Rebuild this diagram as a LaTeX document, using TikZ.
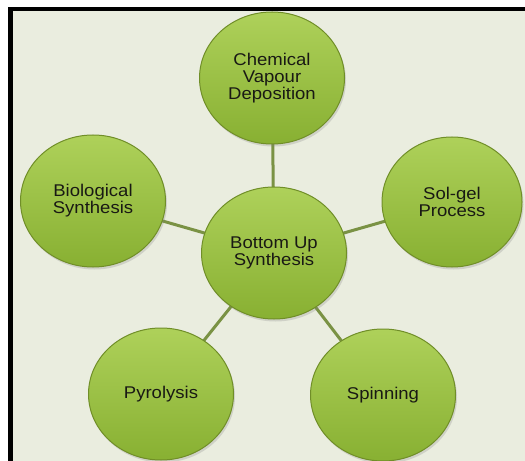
\documentclass[tikz,border=0pt]{standalone}
\usepackage{fontspec}
\setmainfont{Liberation Sans}[FakeStretch=1.09]
\usetikzlibrary{shapes.geometric,shadows}
\definecolor{bgc}{RGB}{234,237,223}
\definecolor{gtop}{RGB}{174,209,90}
\definecolor{gbot}{RGB}{136,176,50}
\definecolor{gedge}{RGB}{112,142,40}
\definecolor{conn}{RGB}{122,146,68}
\definecolor{txt}{RGB}{25,25,20}
\pgfdeclarelayer{bglayer}
\pgfdeclarelayer{linelayer}
\pgfsetlayers{bglayer,linelayer,main}
\begin{document}
\begin{tikzpicture}[x=1bp,y=-1bp,
  bubble/.style={ellipse, minimum width=145bp, minimum height=132bp, inner sep=0pt,
    align=center, font=\fontsize{17bp}{16.8bp}\selectfont, text=txt,
    top color=gtop, bottom color=gbot, draw=gedge, line width=1bp,
    drop shadow={shadow xshift=1.5bp, shadow yshift=-2.5bp, opacity=0.25}},
  link/.style={draw=conn, line width=3bp}]
\useasboundingbox (0,0) rectangle (525,461);
\begin{pgfonlayer}{bglayer}
\fill[white] (0,0) rectangle (525,461);
\fill[black] (8,7) rectangle (525,461);
\fill[bgc] (13,11) rectangle (525,461);
\end{pgfonlayer}
\node[bubble] (cvd) at (272,78) {Chemical\\Vapour\\Deposition};
\node[bubble] (core) at (274,253) {Bottom Up\\Synthesis};
\node[bubble] (bio) at (93,201) {Biological\\Synthesis};
\node[bubble, minimum width=140bp, minimum height=130bp] (sol) at (452,202) {Sol-gel\\Process};
\node[bubble] (pyro) at (161,394) {Pyrolysis};
\node[bubble] (spin) at (383,395) {Spinning};
\begin{pgfonlayer}{linelayer}
\draw[link] (core.center) -- (cvd.center);
\draw[link] (core.center) -- (bio.center);
\draw[link] (core.center) -- (sol.center);
\draw[link] (core.center) -- (pyro.center);
\draw[link] (core.center) -- (spin.center);
\end{pgfonlayer}
\end{tikzpicture}
\end{document}
